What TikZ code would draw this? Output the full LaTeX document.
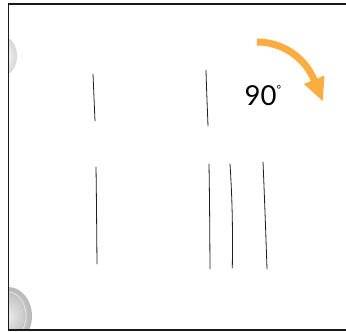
\documentclass[tikz,border=0pt]{standalone}
\usepackage{fontspec}
\setmainfont{Lato}
\definecolor{arroworange}{RGB}{251,173,66}
\definecolor{penline}{RGB}{30,30,30}
\definecolor{framecol}{RGB}{25,25,25}
\begin{document}
\begin{tikzpicture}[x=1pt,y=1pt,
  penstroke/.style={draw=penline,line width=0.8pt,line cap=round},
  framestroke/.style={draw=framecol,line width=1.6pt}]
\useasboundingbox (0,0) rectangle (346,332);
\fill[white] (0,0) rectangle (346,332);
% photo artefacts at the left edge
\begin{scope}
  \clip (8.5,2) rectangle (346,328);
  \shade[inner color=white,outer color=black!16] (2,276) ellipse[x radius=15,y radius=20];
  \shade[inner color=black!8,outer color=black!28] (8,16) ellipse[x radius=24,y radius=29];
  \draw[white,line width=0.8pt,opacity=0.6] (8,16) ellipse[x radius=18,y radius=24];
\end{scope}
% frame
\draw[framestroke] (360,328) -- (8.5,328) -- (8.5,2) -- (360,2);
% pen strokes
\draw[penstroke] (93,258) .. controls (93.7,242) and (94.3,227) .. (95,211);
\draw[penstroke] (206,262) .. controls (206.5,243) and (207.3,225) .. (208,206);
\draw[penstroke] (96,165) .. controls (96.5,133) and (96.7,100) .. (97,68);
\draw[penstroke] (209,168) .. controls (209.6,133) and (209.8,98) .. (210,63);
\draw[penstroke] (230,168) .. controls (231.8,140) and (233,110) .. (232.3,64);
\draw[penstroke] (263,170) .. controls (264.5,135) and (265.8,99) .. (267,63);
% rotation arrow
\draw[arroworange,line width=7pt] (257,290) arc[start angle=90,end angle=22,radius=62];
\fill[arroworange] (324.4,256.5) -- (303.8,248.0) -- (322.7,231.0) -- cycle;
% label
\node[anchor=base west,inner sep=0pt] (lbl) at (244.5,226)
  {\fontsize{27.5}{28}\selectfont 90\raisebox{12.5pt}{\fontsize{11}{11}\selectfont °}};
\end{tikzpicture}
\end{document}
